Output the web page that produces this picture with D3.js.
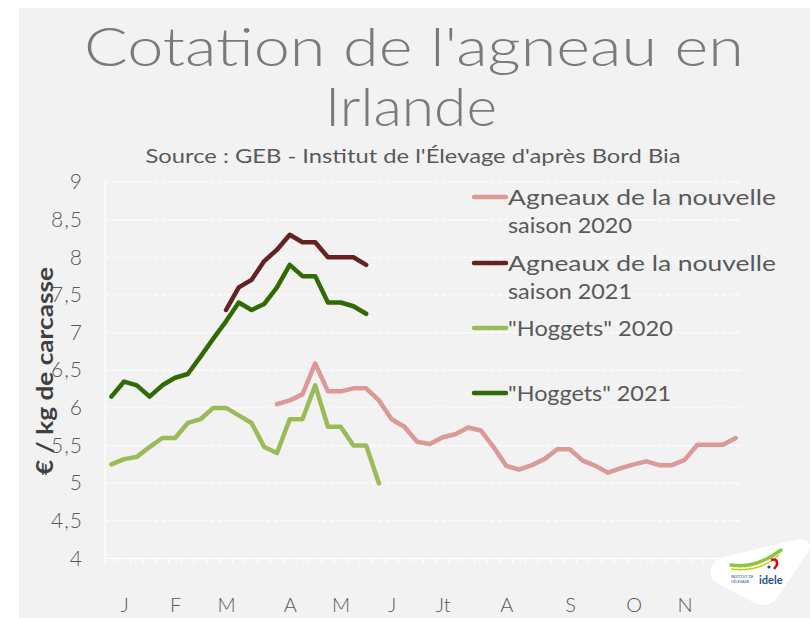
<!DOCTYPE html>
<html><head><meta charset="utf-8">
<script src="https://cdn.jsdelivr.net/npm/d3@7"></script>
<style>body{margin:0;background:#fff}svg{display:block}</style>
</head><body><svg id="c" width="810" height="618"></svg>
<script>
// ---- data ----
const weeks = [1,2,3,4,5,6,7,8,9,10,11,12,13,14,15,16,17,18,19,20,21,22,23,24,25,
               26,27,28,29,30,31,32,33,34,35,36,37,38,39,40,41,42,43,44,45,46,47,48,49,50];
const monthLabels = ["J","F","M","A","M","J","Jt","A","S","O","N"];
const monthWeeks  = [2,6,10,15,19,23,27,32,37,42,46];
const yTicks = [4,4.5,5,5.5,6,6.5,7,7.5,8,8.5,9];

const seriesNames = ["Agneaux de la nouvelle saison 2020","Agneaux de la nouvelle saison 2021",
                     "\"Hoggets\" 2020","\"Hoggets\" 2021"];
const agneaux2020Start = 14;
const agneaux2020 = [6.05,6.10,6.18,6.59,6.22,6.22,6.26,6.26,6.10,5.85,5.75,5.55,5.52,5.61,5.65,5.74,5.70,
                     5.48,5.23,5.18,5.24,5.32,5.45,5.45,5.30,5.23,5.14,5.20,5.25,5.29,5.24,5.24,5.31,
                     5.51,5.51,5.51,5.60];
const agneaux2021Start = 10;
const agneaux2021 = [7.30,7.60,7.70,7.95,8.10,8.30,8.20,8.20,8.00,8.00,8.00,7.90];
const hoggets2020Start = 1;
const hoggets2020 = [5.25,5.32,5.35,5.48,5.60,5.60,5.80,5.85,6.00,6.00,5.90,5.80,5.48,5.40,5.85,5.85,
                     6.30,5.75,5.75,5.50,5.50,5.00];
const hoggets2021Start = 1;
const hoggets2021 = [6.15,6.35,6.30,6.15,6.30,6.40,6.45,6.68,6.92,7.15,7.40,7.30,7.38,7.60,7.90,7.75,
                     7.75,7.40,7.40,7.35,7.25];

const colors = ["#db9997","#662222","#9bbb59","#2f6a05"];

// ---- chart ----
const svg = d3.select("#c");
const font = "Lato, 'DejaVu Sans', sans-serif";
svg.append("rect").attr("x",19).attr("y",8).attr("width",791).attr("height",610).attr("fill","#f2f2f2");

const x = d3.scalePoint().domain(weeks).range([105,742]).padding(0.5);
const xb = d3.scaleBand().domain(weeks).range([105,742]);
const y = d3.scaleLinear().domain([4,9]).range([558.5,182]);

// gridlines
svg.append("g").selectAll("line").data(yTicks.filter(d=>d>4)).join("line")
  .attr("x1",105).attr("x2",742).attr("y1",d=>y(d)).attr("y2",d=>y(d))
  .attr("stroke","#ffffff").attr("stroke-width",1).attr("stroke-dasharray","5,2");

// x axis line + ticks at category boundaries
svg.append("line").attr("x1",105).attr("x2",742).attr("y1",y(4)).attr("y2",y(4)).attr("stroke","#ffffff").attr("stroke-width",1.2);
svg.append("g").selectAll("line").data(weeks.concat([null])).join("line")
  .attr("x1",(d,i)=> i<weeks.length ? xb(d) : xb(weeks[weeks.length-1])+xb.bandwidth())
  .attr("x2",(d,i)=> i<weeks.length ? xb(d) : xb(weeks[weeks.length-1])+xb.bandwidth())
  .attr("y1",y(4)).attr("y2",y(4)+5).attr("stroke","#ffffff").attr("stroke-width",1);
svg.append("line").attr("x1",105).attr("x2",105).attr("y1",y(9)).attr("y2",y(4)).attr("stroke","#ffffff").attr("stroke-width",1.2);

// y axis labels
const yAxis = d3.axisLeft(y).tickValues(yTicks).tickSize(0).tickPadding(22)
  .tickFormat(d => String(d).replace(".", ","));
const gy = svg.append("g").attr("transform","translate(105,0)").call(yAxis);
gy.select(".domain").remove();
gy.selectAll("text").attr("font-family",font).attr("font-size",21).attr("font-weight",300)
  .attr("letter-spacing",1).attr("fill","#595959");

// month labels
const xAxis = d3.axisBottom(x).tickValues(monthWeeks).tickSize(0).tickPadding(0)
  .tickFormat((d,i)=>monthLabels[i]);
const gx = svg.append("g").attr("transform","translate(0,598)").call(xAxis);
gx.select(".domain").remove();
gx.selectAll("text").attr("font-family",font).attr("font-size",20).attr("font-weight",300).attr("fill","#595959");

// lines
const line = d3.line().x(d=>x(d.w)).y(d=>y(d.v));
const series = [
  {data:agneaux2020,start:agneaux2020Start},
  {data:agneaux2021,start:agneaux2021Start},
  {data:hoggets2020,start:hoggets2020Start},
  {data:hoggets2021,start:hoggets2021Start}
];
series.forEach((s,i)=>{
  const pts = s.data.map((v,j)=>({w:weeks[s.start-1+j], v}));
  svg.append("path").datum(pts).attr("d",line).attr("fill","none")
    .attr("stroke",colors[i]).attr("stroke-width",4.5)
    .attr("stroke-linejoin","round").attr("stroke-linecap","round");
});

// legend
const legendRows = [
  {i:0, ly:197, lines:["Agneaux de la nouvelle","saison 2020"], ty:205, tl:[268,124]},
  {i:1, ly:263, lines:["Agneaux de la nouvelle","saison 2021"], ty:271, tl:[268,124]},
  {i:2, ly:328, lines:[seriesNames[2]], ty:336, tl:[165]},
  {i:3, ly:393, lines:[seriesNames[3]], ty:401, tl:[163]}
];
const lg = svg.append("g");
legendRows.forEach(r=>{
  lg.append("line").attr("x1",474).attr("x2",506).attr("y1",r.ly).attr("y2",r.ly)
    .attr("stroke",colors[r.i]).attr("stroke-width",4.5).attr("stroke-linecap","round");
  r.lines.forEach((t,k)=>{
    lg.append("text").attr("x",508).attr("y",r.ty+k*28).text(t)
      .attr("font-family",font).attr("font-size",21).attr("font-weight",400).attr("fill","#595959")
      .attr("textLength",r.tl[k]).attr("lengthAdjust","spacingAndGlyphs");
  });
});

// titles
svg.append("text").attr("x",414).attr("y",66).attr("text-anchor","middle")
  .attr("font-family",font).attr("font-size",54).attr("font-weight",300).attr("fill","#7a7a7a")
  .attr("textLength",660).attr("lengthAdjust","spacingAndGlyphs")
  .text("Cotation de l'agneau en");
svg.append("text").attr("x",411).attr("y",126).attr("text-anchor","middle")
  .attr("font-family",font).attr("font-size",54).attr("font-weight",300).attr("fill","#7a7a7a")
  .attr("textLength",172).attr("lengthAdjust","spacingAndGlyphs")
  .text("Irlande");
svg.append("text").attr("x",413).attr("y",163).attr("text-anchor","middle")
  .attr("font-family",font).attr("font-size",19).attr("font-weight",400).attr("fill","#595959")
  .attr("textLength",535).attr("lengthAdjust","spacingAndGlyphs")
  .text("Source : GEB - Institut de l'Élevage d'après Bord Bia");

// y axis title
svg.append("text").attr("transform","translate(53,371) rotate(-90)").attr("text-anchor","middle")
  .attr("font-family",font).attr("font-size",22).attr("font-weight","bold").attr("fill","#404040")
  .attr("textLength",208).attr("lengthAdjust","spacingAndGlyphs")
  .text("€ / kg de carcasse");

// logo (idele)
const logo = svg.append("g");
logo.append("path").attr("d","M711,574 C710,562 718,559 728,556 L795,540 C808,537 813,545 808,552 L777,598 C771,606 762,607 753,602 L717,583 C712,580 711,577 711,574 Z")
  .attr("fill","#ffffff");
logo.append("path").attr("d","M731,565 Q756,569 781,550").attr("fill","none").attr("stroke","#8dc63f").attr("stroke-width",3.5).attr("stroke-linecap","round");
logo.append("path").attr("d","M731,569 Q759,573 779,555").attr("fill","none").attr("stroke","#c8d400").attr("stroke-width",1.5);
logo.append("path").attr("d","M771,560 Q778,558 777,565 L774,569").attr("fill","none").attr("stroke","#e30613").attr("stroke-width",2.5);
logo.append("circle").attr("cx",769).attr("cy",567).attr("r",1.6).attr("fill","#1d4f91");
logo.append("text").attr("x",759).attr("y",584).text("idele").attr("font-family",font)
  .attr("font-weight","bold").attr("font-size",11).attr("fill","#1d4f91");
logo.append("text").attr("x",731).attr("y",578).text("INSTITUT DE").attr("font-family",font)
  .attr("font-size",3.8).attr("fill","#1d4f91");
logo.append("text").attr("x",731).attr("y",583).text("L'ÉLEVAGE").attr("font-family",font)
  .attr("font-size",3.8).attr("fill","#1d4f91");
</script></body></html>
